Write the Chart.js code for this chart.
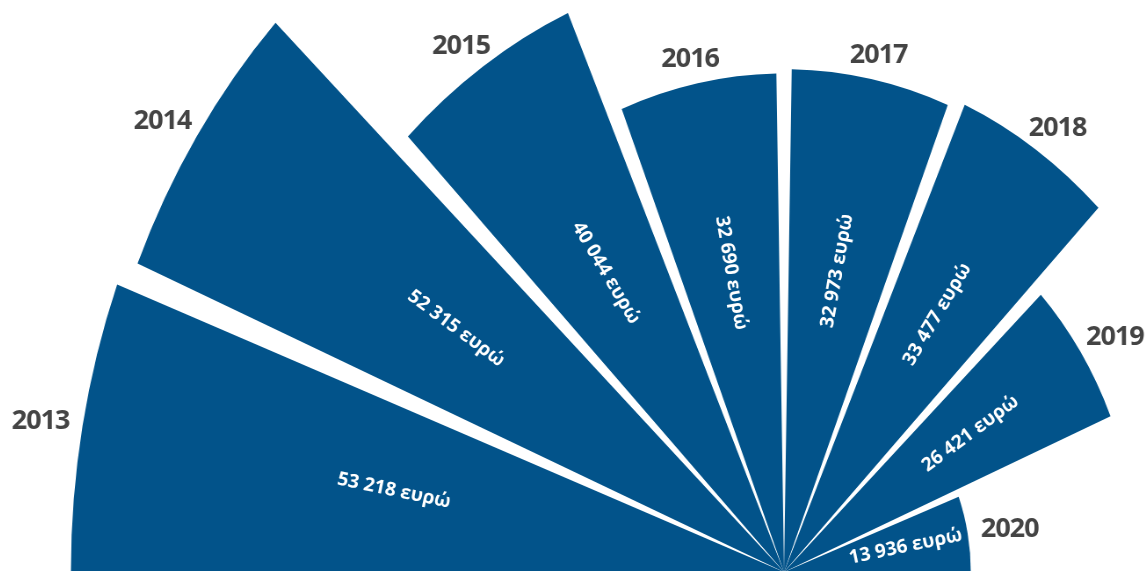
<!DOCTYPE html>
<html lang="el">
<head>
<meta charset="utf-8">
<title>Ποσά ανά έτος</title>
<script src="https://cdn.jsdelivr.net/npm/chart.js@4.4.1/dist/chart.umd.min.js"></script>
<style>
  html, body { margin: 0; padding: 0; background: #fff; overflow: hidden; }
  #wrap { position: relative; width: 1145px; height: 571px; overflow: hidden; }
</style>
</head>
<body>
<div id="wrap">
  <!-- drawn as a circle, then squeezed sideways by the css width -->
  <canvas id="fan" width="1830" height="1830"
          style="position:absolute; left:-20.5px; top:-343px; width:1608px; height:1830px;"></canvas>
</div>
<script>
// data
const years = ['2013', '2014', '2015', '2016', '2017', '2018', '2019', '2020'];
const amounts = [53218, 52315, 40044, 32690, 32973, 33477, 26421, 13936];
const currency = 'ευρώ';
const scaleMax = 60000;

const sectorColor = '#02538A';
const yearColor = '#444444';
const FAN_DEG = 182;        // whole fan, a hair wider than a half circle
const GAP_DEG = 2;          // white wedge between sectors
const X_SQUEEZE = 0.8787;   // css width / canvas width

function formatAmount(v) {
    return String(v).replace(/\B(?=(\d{3})+(?!\d))/g, ' ') + ' ' + currency;
}

// trim each sector a bit on both sides so the gaps narrow to the centre
const sectorGap = {
    id: 'sectorGap',
    afterDatasetUpdate(chart, args) {
        const half = GAP_DEG / 2 * Math.PI / 180;
        args.meta.data.forEach(arc => {
            arc.startAngle += half;
            arc.endAngle -= half;
        });
    }
};

// amounts inside the sectors, years outside the rim
const fanLabels = {
    id: 'fanLabels',
    afterDatasetsDraw(chart) {
        const ctx = chart.ctx;
        const arcs = chart.getDatasetMeta(0).data;
        const biggest = Math.max(...arcs.map(a => a.outerRadius));
        arcs.forEach((arc, i) => {
            const mid = (arc.startAngle + arc.endAngle) / 2;
            const cos = Math.cos(mid);
            const sin = Math.sin(mid);
            // direction as seen on screen after the squeeze
            const len = Math.hypot(cos * X_SQUEEZE, sin);
            const ux = cos * X_SQUEEZE / len;
            const uy = sin / len;

            // long sectors get their amount a little closer to the centre
            const depth = 0.70 - 0.144 * arc.outerRadius / biggest;
            ctx.save();
            ctx.translate(arc.x + cos * arc.outerRadius * depth, arc.y + sin * arc.outerRadius * depth);
            ctx.scale(1 / X_SQUEEZE, 1);
            let rot = Math.atan2(uy, ux);
            if (ux < 0) rot += Math.PI;
            ctx.rotate(rot);
            ctx.font = 'bold 19px "Open Sans"';
            ctx.fillStyle = '#ffffff';
            ctx.textAlign = 'center';
            ctx.textBaseline = 'middle';
            ctx.fillText(formatAmount(amounts[i]), 0, 0);
            ctx.restore();

            ctx.save();
            ctx.translate(arc.x + cos * arc.outerRadius, arc.y + sin * arc.outerRadius);
            ctx.scale(1 / X_SQUEEZE, 1);
            ctx.font = 'bold 27px "Open Sans"';
            ctx.letterSpacing = '-1px';
            const w = ctx.measureText(years[i]).width;
            const h = 20;
            ctx.fillStyle = yearColor;
            ctx.textAlign = 'center';
            ctx.textBaseline = 'middle';
            ctx.fillText(years[i], ux * (14 + w / 2), uy * (14 + h / 2));
            ctx.restore();
        });
    }
};

new Chart(document.getElementById('fan'), {
    type: 'polarArea',
    data: {
        labels: years,
        datasets: [{
            data: amounts,
            backgroundColor: sectorColor,
            borderWidth: 0,
            angle: FAN_DEG / years.length
        }]
    },
    options: {
        responsive: false,
        animation: false,
        events: [],
        layout: { padding: 0 },
        plugins: {
            legend: { display: false },
            tooltip: { enabled: false }
        },
        scales: {
            r: {
                min: 0,
                max: scaleMax,
                startAngle: -90 - (FAN_DEG - 180) / 2,
                grid: { display: false },
                angleLines: { display: false },
                pointLabels: { display: false },
                ticks: { display: false }
            }
        }
    },
    plugins: [sectorGap, fanLabels]
});
</script>
</body>
</html>
